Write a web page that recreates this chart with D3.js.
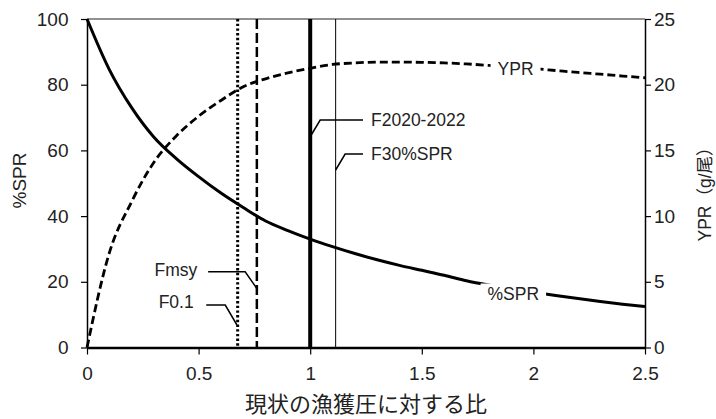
<!DOCTYPE html>
<html>
<head>
<meta charset="utf-8">
<script src="https://cdn.jsdelivr.net/npm/d3@7"></script>
<style>
body { margin: 0; background: #fff; }
text { font-family: "Liberation Sans", Arial, "Noto Sans CJK JP", sans-serif; fill: #222; }
</style>
</head>
<body>
<svg width="716" height="419"></svg>
<script>
// ratio to current F
var fRatio = [0, 0.1, 0.2, 0.3, 0.4, 0.5, 0.6, 0.7, 0.8, 0.9, 1.0, 1.1, 1.2, 1.3, 1.4, 1.5, 1.6, 1.7, 1.8, 1.9, 2.0, 2.1, 2.2, 2.3, 2.4, 2.5];
var sprValues = [100, 84.6, 73.0, 64.0, 57.5, 52.0, 47.0, 42.6, 38.5, 35.6, 33.0, 30.7, 28.6, 26.7, 25.0, 23.5, 22.0, 20.3, 19.0, 17.9, 16.8, 15.8, 14.9, 14.0, 13.2, 12.5];
var yprValues = [0, 7.2, 11.1, 14.1, 16.1, 17.6, 18.8, 19.85, 20.45, 20.9, 21.25, 21.54, 21.66, 21.72, 21.72, 21.7, 21.66, 21.58, 21.47, 21.35, 21.23, 21.08, 20.93, 20.8, 20.66, 20.53];
var leftTicks = [0, 20, 40, 60, 80, 100];
var rightTicks = [0, 5, 10, 15, 20, 25];
var xTicks = [0, 0.5, 1, 1.5, 2, 2.5];
var refNames = ['F0.1', 'Fmsy', 'F2020-2022', 'F30%SPR'];
var refValues = [0.675, 0.761, 1.0, 1.114];

var svg = d3.select('svg');
var x = d3.scaleLinear().domain([0, 2.5]).range([87, 645]);
var yL = d3.scaleLinear().domain([0, 100]).range([347.5, 19]);
var yR = d3.scaleLinear().domain([0, 25]).range([347.5, 19]);

// top border
svg.append('line').attr('x1', 87).attr('x2', 645).attr('y1', 19).attr('y2', 19)
    .attr('stroke', '#222').attr('stroke-width', 1);

// reference lines
var refStyle = [
    {w: 3, dash: '2.4,2.3'},
    {w: 2.5, dash: '10,4'},
    {w: 4, dash: null},
    {w: 1, dash: null}
];
refValues.forEach(function(v, i) {
    svg.append('line').attr('x1', x(v)).attr('x2', x(v)).attr('y1', yL(100)).attr('y2', yL(0))
        .attr('stroke', '#000').attr('stroke-width', refStyle[i].w)
        .attr('stroke-dasharray', refStyle[i].dash);
});

var pts = fRatio.map(function(f, i) { return {f: f, spr: sprValues[i], ypr: yprValues[i]}; });

var sprLine = d3.line().x(function(d) { return x(d.f); }).y(function(d) { return yL(d.spr); }).curve(d3.curveMonotoneX);
var yprLine = d3.line().x(function(d) { return x(d.f); }).y(function(d) { return yR(d.ypr); }).curve(d3.curveMonotoneX);

svg.append('path').datum(pts).attr('d', sprLine).attr('fill', 'none').attr('stroke', '#000').attr('stroke-width', 3);
svg.append('path').datum(pts).attr('d', yprLine).attr('fill', 'none').attr('stroke', '#000').attr('stroke-width', 2.8)
    .attr('stroke-dasharray', '8,4');

// axes
var gL = svg.append('g').attr('transform', 'translate(87,0)')
    .call(d3.axisLeft(yL).tickValues(leftTicks).tickSize(6).tickSizeOuter(0).tickPadding(12.5));
var gR = svg.append('g').attr('transform', 'translate(645,0)')
    .call(d3.axisRight(yR).tickValues(rightTicks).tickSize(6).tickSizeOuter(0).tickPadding(3));
var gX = svg.append('g').attr('transform', 'translate(0,347.5)')
    .call(d3.axisBottom(x).tickValues(xTicks).tickFormat(d3.format('~g')).tickSize(7).tickSizeOuter(0).tickPadding(12));
[gL, gR, gX].forEach(function(g) {
    g.selectAll('text').attr('font-size', 19).attr('font-family', null).attr('fill', '#222');
    g.selectAll('line').attr('stroke', '#000').attr('stroke-width', 1.2);
    g.select('.domain').attr('stroke', '#000').attr('stroke-width', 1.5);
});
gX.select('.domain').attr('stroke-width', 2.5);

// curve labels with white gap
function curveLabel(txt, cx, cy) {
    var g = svg.append('g');
    var r = g.append('rect').attr('fill', '#fff');
    var t = g.append('text').attr('x', cx).attr('y', cy).attr('text-anchor', 'middle')
        .attr('dominant-baseline', 'central').attr('font-size', 17.5).text(txt);
    var b = t.node().getBBox();
    r.attr('x', b.x - 7).attr('y', b.y).attr('width', b.width + 14).attr('height', b.height);
}
curveLabel('YPR', x(1.92), 68.5);
curveLabel('%SPR', x(1.91), 293.5);

// leader labels
function leader(points, txt, tx, ty, anchor) {
    svg.append('path').attr('d', d3.line()(points)).attr('fill', 'none').attr('stroke', '#000').attr('stroke-width', 1.5);
    svg.append('text').attr('x', tx).attr('y', ty).attr('text-anchor', anchor)
        .attr('dominant-baseline', 'central').attr('font-size', 17.5).text(txt);
}
var xa = x(refValues[0]), xb = x(refValues[1]), xc = x(refValues[2]), xd = x(refValues[3]);
leader([[xa - 0.7, 325], [xa - 12.4, 305], [xa - 31.4, 305]], refNames[0], xa - 44, 302, 'end');
leader([[xb, 288.5], [xb - 11.7, 271.7], [xb - 48.7, 271.7]], refNames[1], xb - 59.5, 270, 'end');
leader([[xc + 1, 135], [xc + 10, 120], [363, 120]], refNames[2], 371, 120, 'start');
leader([[xd, 170], [xd + 9.5, 154], [363, 154]], refNames[3], 371, 154, 'start');

// axis titles
svg.append('text').attr('transform', 'translate(19.5,180.5) rotate(-90)').attr('text-anchor', 'middle')
    .attr('dominant-baseline', 'central').attr('font-size', 19).text('%SPR');
svg.append('text').attr('transform', 'translate(705,190) rotate(-90)').attr('text-anchor', 'middle')
    .attr('dominant-baseline', 'central').attr('font-size', 17.5).text('YPR（g/尾）');
svg.append('text').attr('x', 366).attr('y', 404).attr('text-anchor', 'middle')
    .attr('dominant-baseline', 'central').attr('font-size', 22)
    .attr('font-family', '"Noto Sans CJK JP", sans-serif').text('現状の漁獲圧に対する比');
</script>
</body>
</html>
